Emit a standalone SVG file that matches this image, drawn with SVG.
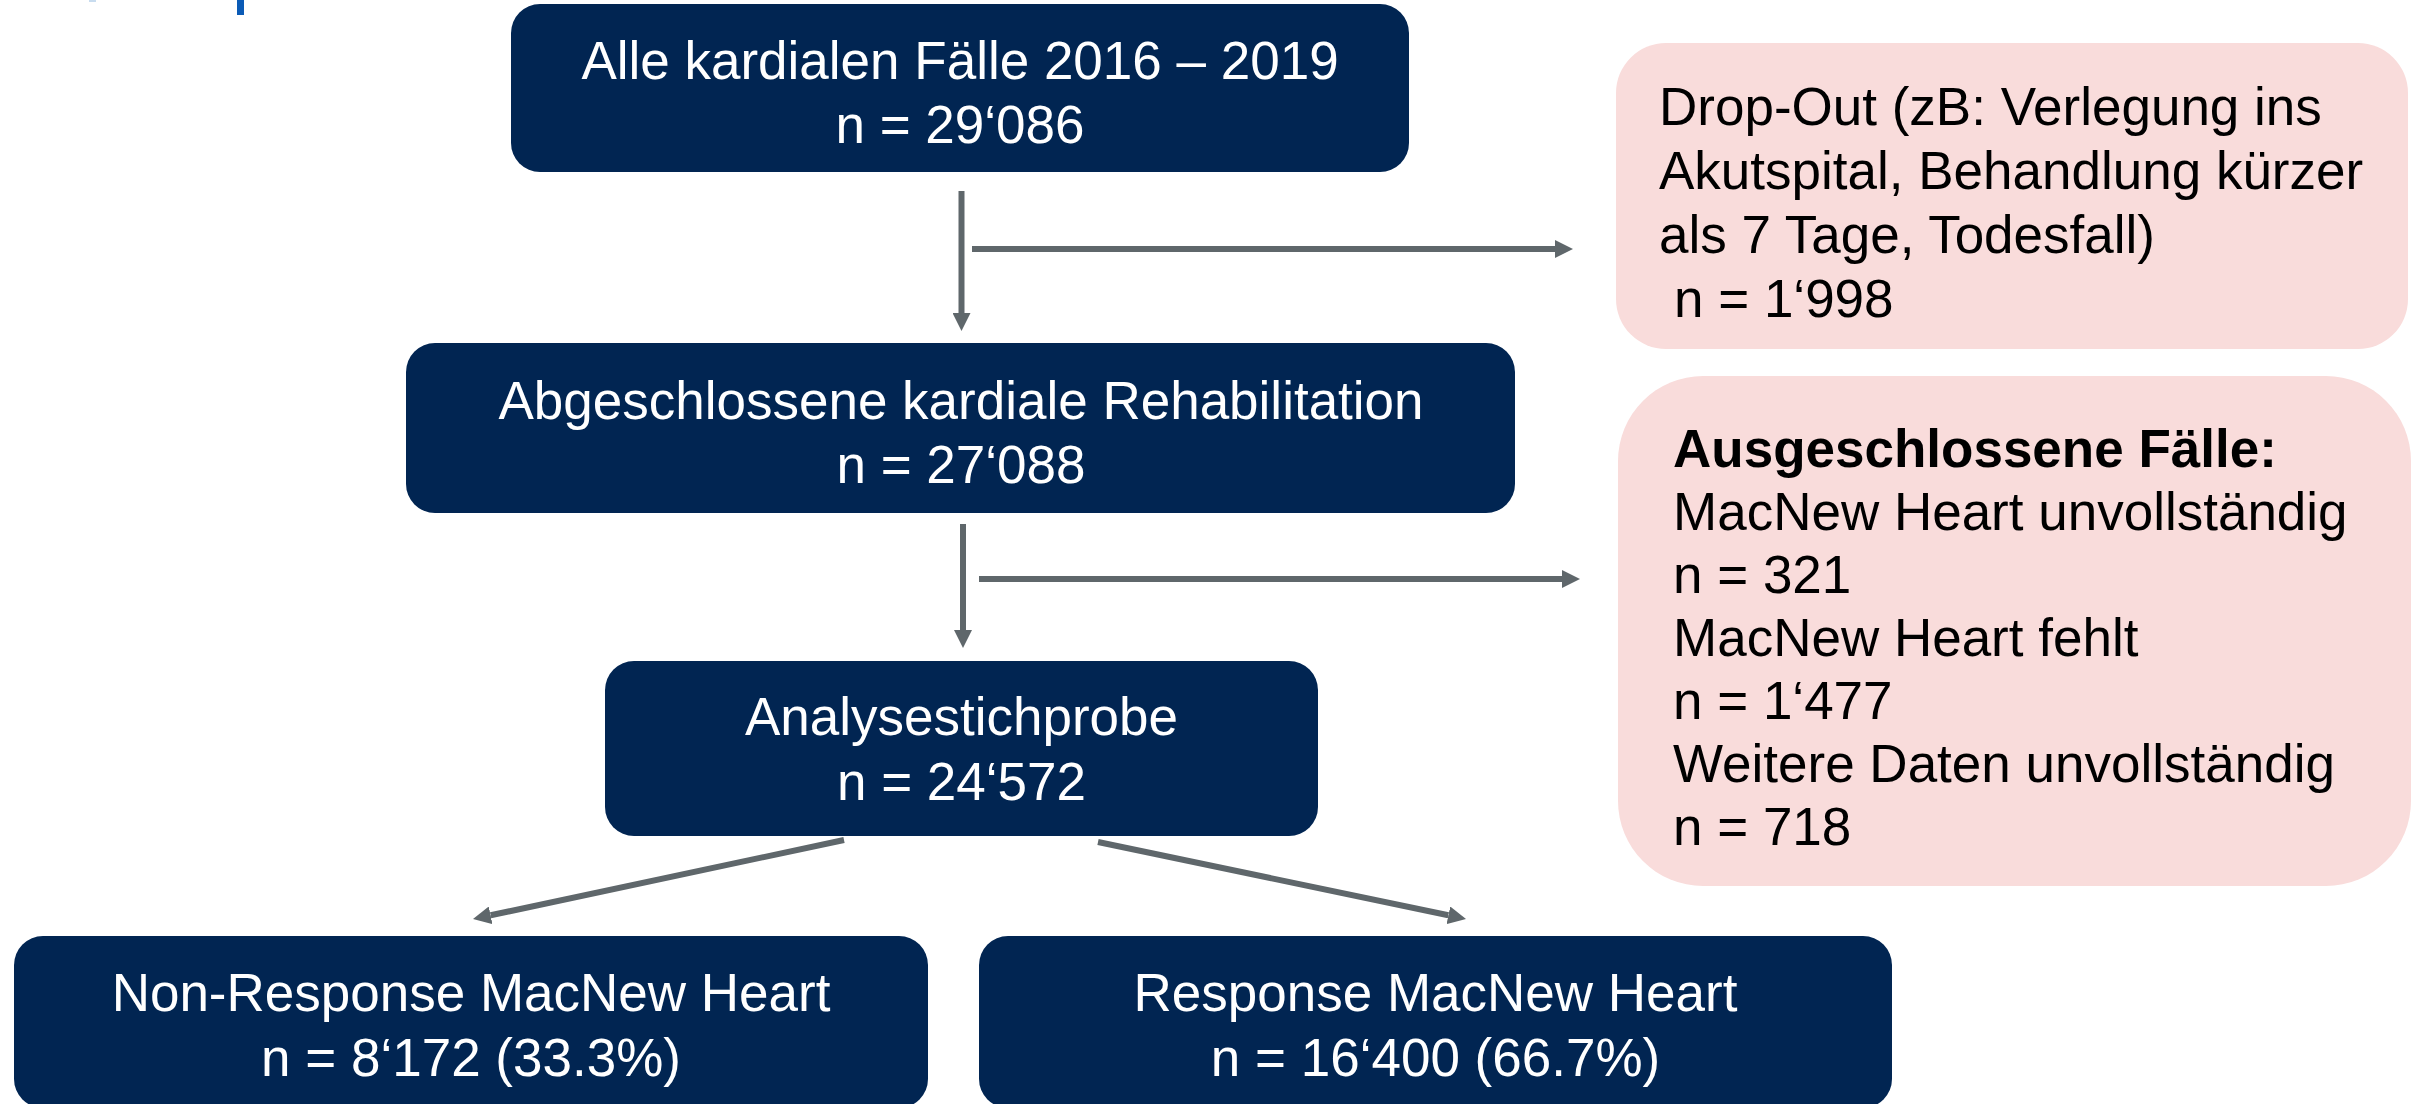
<svg xmlns="http://www.w3.org/2000/svg" width="2415" height="1104" viewBox="0 0 2415 1104">
  <style>
    .box { fill: #012552; }
    .pink { fill: #F9DCDB; }
    .wt { fill: #FFFFFF; font-family: "Liberation Sans", Arial, sans-serif; font-size: 53px; text-anchor: middle; }
    .bt { fill: #000000; font-family: "Liberation Sans", Arial, sans-serif; font-size: 53px; }
    .bold { font-weight: bold; }
    .conn { stroke: #5F676B; stroke-width: 6; fill: none; }
  </style>
  <defs>
    <marker id="arrow" viewBox="0 0 3 3" refX="0" refY="1.5" markerWidth="3" markerHeight="3" markerUnits="strokeWidth" orient="auto">
      <path d="M0,0 L3,1.5 L0,3 Z" fill="#5F676B"/>
    </marker>
  </defs>
  <rect width="2415" height="1104" fill="#FFFFFF"/>

  <g id="title-remnant">
    <rect x="89" y="0" width="7" height="2" fill="#C8DCEF"/>
    <rect x="237" y="0" width="7" height="15" fill="#0B5BB6"/>
  </g>

  <g id="connectors">
    <line class="conn" x1="961.5" y1="191" x2="961.5" y2="313" marker-end="url(#arrow)"/>
    <line class="conn" x1="972" y1="249" x2="1555" y2="249" marker-end="url(#arrow)"/>
    <line class="conn" x1="963" y1="524" x2="963" y2="630" marker-end="url(#arrow)"/>
    <line class="conn" x1="979" y1="579" x2="1562" y2="579" marker-end="url(#arrow)"/>
    <line class="conn" x1="844" y1="840" x2="490.6" y2="915.3" marker-end="url(#arrow)"/>
    <line class="conn" x1="1098" y1="842" x2="1448.4" y2="915.3" marker-end="url(#arrow)"/>
  </g>

  <g id="node-alle">
    <rect class="box" x="511" y="4" width="898" height="168" rx="29" ry="29"/>
    <text class="wt" x="960" y="79">Alle kardialen Fälle 2016 – 2019</text>
    <text class="wt" x="960" y="143">n = 29‘086</text>
  </g>

  <g id="node-abgeschlossen">
    <rect class="box" x="406" y="343" width="1109" height="170" rx="29" ry="29"/>
    <text class="wt" x="961" y="419">Abgeschlossene kardiale Rehabilitation</text>
    <text class="wt" x="961" y="483">n = 27‘088</text>
  </g>

  <g id="node-analyse">
    <rect class="box" x="605" y="661" width="713" height="175" rx="29" ry="29"/>
    <text class="wt" x="961.5" y="735">Analysestichprobe</text>
    <text class="wt" x="961.5" y="800">n = 24‘572</text>
  </g>

  <g id="node-nonresponse">
    <rect class="box" x="14" y="936" width="914" height="172" rx="29" ry="29"/>
    <text class="wt" x="471" y="1011">Non-Response MacNew Heart</text>
    <text class="wt" x="471" y="1076">n = 8‘172 (33.3%)</text>
  </g>

  <g id="node-response">
    <rect class="box" x="979" y="936" width="913" height="172" rx="29" ry="29"/>
    <text class="wt" x="1435.5" y="1011">Response MacNew Heart</text>
    <text class="wt" x="1435.5" y="1076">n = 16‘400 (66.7%)</text>
  </g>

  <g id="node-dropout">
    <rect class="pink" x="1616" y="43" width="792" height="306" rx="50" ry="50"/>
    <text class="bt" x="1659" y="125">Drop-Out (zB: Verlegung ins</text>
    <text class="bt" x="1659" y="189">Akutspital, Behandlung kürzer</text>
    <text class="bt" x="1659" y="253">als 7 Tage, Todesfall)</text>
    <text class="bt" x="1674" y="317">n = 1‘998</text>
  </g>

  <g id="node-ausgeschlossen">
    <rect class="pink" x="1618" y="376" width="793" height="510" rx="85" ry="85"/>
    <text class="bt bold" x="1673" y="467">Ausgeschlossene Fälle:</text>
    <text class="bt" x="1673" y="530">MacNew Heart unvollständig</text>
    <text class="bt" x="1673" y="593">n = 321</text>
    <text class="bt" x="1673" y="656">MacNew Heart fehlt</text>
    <text class="bt" x="1673" y="719">n = 1‘477</text>
    <text class="bt" x="1673" y="782">Weitere Daten unvollständig</text>
    <text class="bt" x="1673" y="845">n = 718</text>
  </g>
</svg>
